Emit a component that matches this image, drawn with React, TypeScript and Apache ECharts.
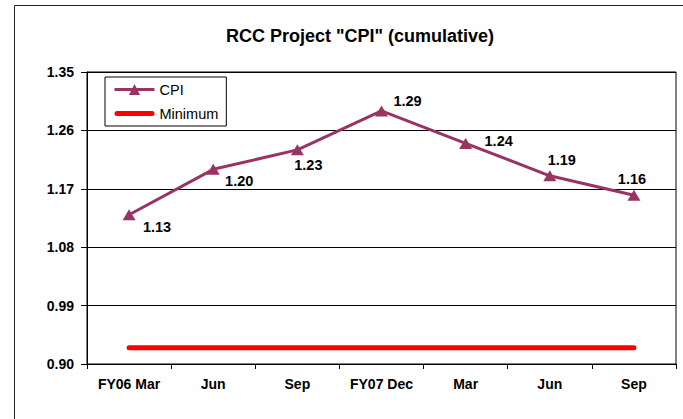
import React, { useEffect, useRef } from "react";
import * as echarts from "echarts";

const categories = ["FY06 Mar", "Jun", "Sep", "FY07 Dec", "Mar", "Jun", "Sep"];
const cpiValues = [1.13, 1.2, 1.23, 1.29, 1.24, 1.19, 1.16];
const minimumValues = [0.925, 0.925, 0.925, 0.925, 0.925, 0.925, 0.925];
const labelOffsets: [number, number][] = [
  [28, 12],
  [26, 12],
  [11, 15],
  [26, -10],
  [33, -2],
  [12, -16],
  [-2, -16],
];
const FONT = '"Liberation Sans", Arial, sans-serif';

export default function App() {
  const ref = useRef<HTMLDivElement>(null);
  useEffect(() => {
    if (!ref.current) return;
    const chart = echarts.init(ref.current, undefined, { renderer: "svg" });
    chart.setOption({
      animation: false,
      backgroundColor: "#fff",
      textStyle: { fontFamily: FONT },
      graphic: [
        {
          type: "rect",
          shape: { x: 14.5, y: 5.5, width: 720, height: 500 },
          style: { fill: "none", stroke: "#222", lineWidth: 1 },
          silent: true,
        },
        {
          type: "text",
          x: 360,
          y: 36,
          style: {
            text: 'RCC Project "CPI" (cumulative)',
            fontFamily: FONT,
            fontSize: 18,
            fontWeight: "bold",
            fill: "#000",
            textAlign: "center",
            textVerticalAlign: "middle",
          },
        },
      ],
      legend: {
        left: 105,
        top: 77,
        orient: "vertical",
        itemWidth: 40,
        itemHeight: 14,
        itemGap: 9,
        padding: [5, 8],
        borderColor: "#000",
        borderWidth: 1,
        backgroundColor: "#fff",
        textStyle: { fontFamily: FONT, fontSize: 14.5, color: "#000" },
        data: [
          { name: "CPI", lineStyle: { width: 3 } },
          {
            name: "Minimum",
            icon: "path://M2.5,0 L37.5,0 A2.5,2.5 0 0 1 37.5,5 L2.5,5 A2.5,2.5 0 0 1 2.5,0 Z",
          },
        ],
      },
      grid: {
        left: 87,
        right: 7,
        top: 72,
        bottom: 55,
        show: true,
        borderColor: "#000",
        borderWidth: 1,
        containLabel: false,
      },
      xAxis: {
        type: "category",
        data: categories,
        boundaryGap: true,
        axisLine: { lineStyle: { color: "#000", width: 1 } },
        axisTick: { show: true, length: 5, lineStyle: { color: "#000" } },
        axisLabel: {
          color: "#000",
          fontFamily: FONT,
          fontSize: 14,
          fontWeight: "bold",
          margin: 13,
          interval: 0,
        },
        splitLine: { show: false },
      },
      yAxis: {
        type: "value",
        min: 0.9,
        max: 1.35,
        interval: 0.09,
        axisLine: { show: true, lineStyle: { color: "#000", width: 1 } },
        axisTick: { show: true, length: 6, lineStyle: { color: "#000" } },
        axisLabel: {
          color: "#000",
          fontFamily: FONT,
          fontSize: 14,
          fontWeight: "bold",
          margin: 13,
          formatter: (v: number) => v.toFixed(2),
        },
        splitLine: { show: true, lineStyle: { color: "#000", width: 1 } },
      },
      series: [
        {
          name: "Minimum",
          type: "line",
          data: minimumValues,
          symbol: "none",
          color: "#ff0000",
          lineStyle: { color: "#ff0000", width: 5, cap: "round" },
          z: 2,
        },
        {
          name: "CPI",
          type: "line",
          data: cpiValues.map((v, i) => ({
            value: v,
            label: { offset: labelOffsets[i] },
          })),
          symbol: "triangle",
          symbolSize: [13, 11],
          color: "#993366",
          itemStyle: { color: "#993366" },
          lineStyle: { color: "#993366", width: 3 },
          label: {
            show: true,
            position: "inside",
            color: "#000",
            fontFamily: FONT,
            fontSize: 14.5,
            fontWeight: "bold",
            formatter: (p: any) => Number(p.value).toFixed(2),
          },
          z: 3,
        },
      ],
    });
    return () => chart.dispose();
  }, []);
  return (
    <div
      ref={ref}
      style={{ position: "fixed", left: 0, top: 0, width: 683, height: 419 }}
    />
  );
}
